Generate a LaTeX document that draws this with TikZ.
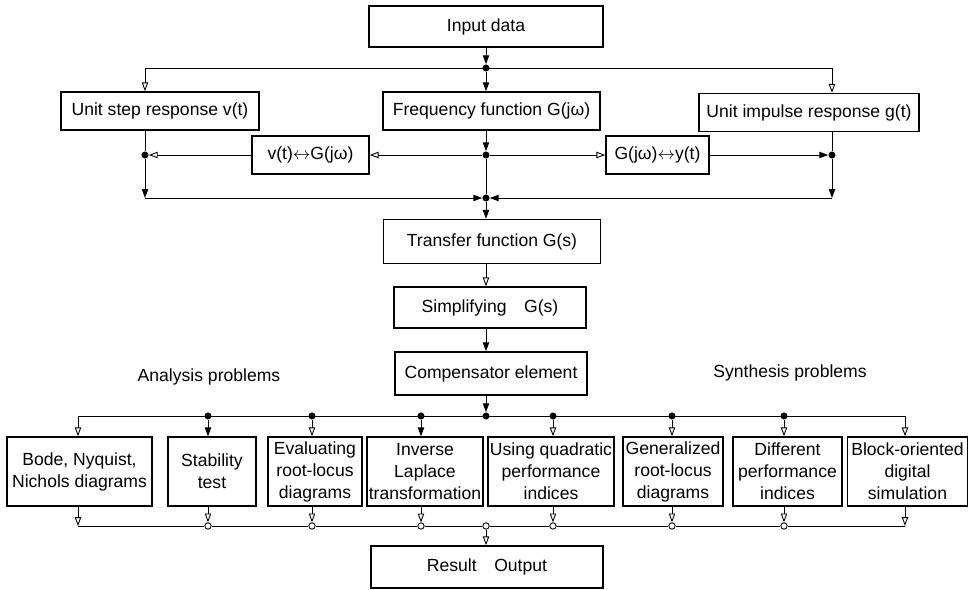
\documentclass[tikz,border=0pt]{standalone}
\usepackage{fontspec}
\setmainfont{Liberation Sans}
\usetikzlibrary{arrows.meta}

\begin{document}
\begin{tikzpicture}[
    x=0.02cm, y=-0.02cm,
    font=\fontsize{10}{12.5}\selectfont,
    block/.style={rectangle, draw, line width=0.9pt, align=center, inner sep=1pt, minimum height=0.76cm},
    tall/.style={block, minimum height=1.38cm},
    line/.style={line width=0.5pt},
    arrow/.style={-{Triangle[open,length=5pt,width=3.6pt]}, line width=0.5pt},
    farrow/.style={-{Triangle[length=5pt,width=3.6pt]}, line width=0.5pt},
    dot/.style={circle, fill, inner sep=0pt, minimum size=4pt},
    odot/.style={circle, draw, line width=0.5pt, fill=white, inner sep=0pt, minimum size=3.6pt}
  ]
  \useasboundingbox (0,0) rectangle (968,589);

  % Define upper blocks
  \node[block, minimum width=4.68cm, minimum height=0.82cm] (inp) at (486,26.5) {Input data};
  \node[block, minimum width=3.96cm] (stepr) at (160,111) {Unit step response v(t)};
  \node[block, minimum width=4.34cm] (freq) at (491.5,111) {Frequency function G(jω)};
  \node[block, minimum width=4.4cm] (imp) at (809,112.5) {Unit impulse response g(t)};
  \node[block, minimum width=2.34cm] (vg) at (310.5,155) {v(t)$\leftrightarrow$G(jω)};
  \node[block, minimum width=2.06cm] (gy) at (657.5,155) {G(jω)$\leftrightarrow$y(t)};
  \node[block, minimum width=4.34cm, minimum height=0.88cm] (tf) at (492,241.5) {Transfer function G(s)};
  \node[block, minimum width=3.84cm, minimum height=0.82cm] (simp) at (490,307.5) {Simplifying\quad G(s)};
  \node[block, minimum width=3.84cm, minimum height=0.86cm] (comp) at (491,373.5) {Compensator element};

  % Side labels
  \node (ana) at (209,377) {Analysis problems};
  \node (syn) at (790,373) {Synthesis problems};

  % Define lower blocks
  \node[tall, minimum width=2.9cm] (bode) at (79.5,471.5) {Bode, Nyquist,\\Nichols diagrams};
  \node[tall, minimum width=1.76cm] (stab) at (212,471.5) {Stability\\test};
  \node[tall, minimum width=1.88cm] (eval) at (315,471.5) {Evaluating\\root-locus\\diagrams};
  \node[tall, minimum width=2.32cm] (inv) at (425,471.5) {Inverse\\Laplace\\transformation};
  \node[tall, minimum width=2.52cm] (quad) at (551,471.5) {Using quadratic\\performance\\indices};
  \node[tall, minimum width=2.0cm] (gen) at (673,471.5) {Generalized\\root-locus\\diagrams};
  \node[tall, minimum width=2.18cm] (diff) at (787.5,471.5) {Different\\performance\\indices};
  \node[tall, minimum width=2.4cm] (blk) at (907.5,471.5) {Block-oriented\\digital\\simulation};
  \node[block, minimum width=4.64cm, minimum height=0.84cm] (res) at (487,567) {Result\quad Output};

  % Junctions
  \node[dot] (j0) at (486,68) {};
  \coordinate (cL) at (145,68);
  \coordinate (cR) at (832,68);
  \node[dot] (jsl) at (145,155) {};
  \node[dot] (jf) at (486,155) {};
  \node[dot] (jir) at (832,155) {};
  \coordinate (cbl) at (145,198);
  \node[dot] (jb) at (486,198) {};
  \coordinate (cbr) at (832,198);

  \node[dot] (jc) at (486,416) {};
  \coordinate (tbl) at (78,416);
  \coordinate (tbr) at (905,416);
  \node[dot] (ds) at (208,416) {};
  \node[dot] (de) at (312,416) {};
  \node[dot] (di) at (421,416) {};
  \node[dot] (dq) at (553,416) {};
  \node[dot] (dg) at (672,416) {};
  \node[dot] (dd) at (784,416) {};

  \coordinate (obl) at (78,526);
  \coordinate (obr) at (905,526);
  \node[odot] (os) at (208,526) {};
  \node[odot] (oe) at (312,526) {};
  \node[odot] (oi) at (421,526) {};
  \node[odot] (jr) at (486,526) {};
  \node[odot] (oq) at (553,526) {};
  \node[odot] (og) at (672,526) {};
  \node[odot] (od) at (784,526) {};

  % Draw arrows of the upper part
  \draw[farrow] (inp) -- (j0);
  \draw[line] (cL) -- (cR);
  \draw[arrow] (cL) -- (stepr.north -| cL);
  \draw[arrow] (cR) -- (imp.north -| cR);
  \draw[farrow] (j0) -- (freq.north -| j0);
  \draw[line] (stepr.south -| jsl) -- (jsl);
  \draw[farrow] (freq.south -| jf) -- (jf);
  \draw[line] (imp.south -| jir) -- (jir);
  \draw[arrow] (jf) -- (vg);
  \draw[arrow] (vg) -- (jsl);
  \draw[arrow] (jf) -- (gy);
  \draw[farrow] (gy) -- (jir);
  \draw[farrow] (jsl) -- (cbl);
  \draw[farrow] (cbl) -- (jb);
  \draw[farrow] (jir) -- (cbr);
  \draw[farrow] (cbr) -- (jb);
  \draw[line] (jf) -- (jb);
  \draw[farrow] (jb) -- (tf.north -| jb);
  \draw[arrow] (tf.south -| jb) -- (simp.north -| jb);
  \draw[farrow] (simp.south -| jb) -- (comp.north -| jb);
  \draw[farrow] (comp.south -| jc) -- (jc);

  % Draw the distribution bus
  \draw[line] (tbl) -- (tbr);
  \draw[arrow] (tbl) -- (bode.north -| tbl);
  \draw[farrow] (ds) -- (stab.north -| ds);
  \draw[arrow] (de) -- (eval.north -| de);
  \draw[farrow] (di) -- (inv.north -| di);
  \draw[arrow] (dq) -- (quad.north -| dq);
  \draw[arrow] (dg) -- (gen.north -| dg);
  \draw[arrow] (dd) -- (diff.north -| dd);
  \draw[arrow] (tbr) -- (blk.north -| tbr);

  % Draw the collecting bus
  \draw[line] (obl) -- (os) -- (oe) -- (oi) -- (jr) -- (oq) -- (og) -- (od) -- (obr);
  \draw[arrow] (bode.south -| obl) -- (obl);
  \draw[arrow] (stab.south -| os) -- (os);
  \draw[arrow] (eval.south -| oe) -- (oe);
  \draw[arrow] (inv.south -| oi) -- (oi);
  \draw[arrow] (quad.south -| oq) -- (oq);
  \draw[arrow] (gen.south -| og) -- (og);
  \draw[arrow] (diff.south -| od) -- (od);
  \draw[arrow] (blk.south -| obr) -- (obr);
  \draw[arrow] (jr) -- (res.north -| jr);
\end{tikzpicture}
\end{document}
